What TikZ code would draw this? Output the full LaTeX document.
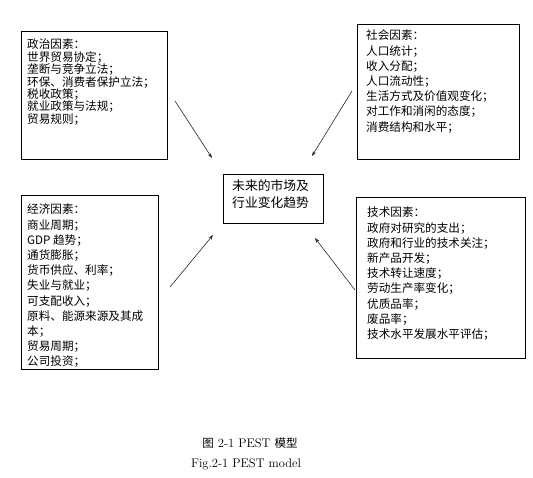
\documentclass[tikz,border=0pt]{standalone}
\usepackage{fontspec}
\newfontfamily\cjk{Noto Sans CJK SC}
\usetikzlibrary{arrows.meta}
\newcommand{\topstrut}{\rule{0pt}{11pt}}
\begin{document}
\begin{tikzpicture}[x=1pt,y=-1pt,
  box/.style={draw=black,line width=0.8pt,inner sep=0pt,anchor=north west},
  txt/.style={inner sep=0pt,anchor=north west,align=left,font=\cjk\fontsize{11.6}{15.2}\selectfont},
  arr/.style={draw=black!85,line width=0.6pt,-{Stealth[length=5pt,width=3.5pt]}}]
\useasboundingbox (0,0) rectangle (533,477);
% boxes
\node[box,minimum width=146pt,minimum height=128pt] (pol) at (21,31) {};
\node[box,minimum width=162pt,minimum height=135pt] (soc) at (357,24) {};
\node[box,minimum width=137pt,minimum height=174pt] (eco) at (21,195) {};
\node[box,minimum width=169pt,minimum height=161pt] (tec) at (356,197) {};
\node[box,minimum width=100pt,minimum height=49pt] (ctr) at (223,174) {};
% texts (baseline of first line = y + 11)
\node[txt,font=\cjk\fontsize{11.6}{12.4}\selectfont] (polt) at (27,37.6) {\topstrut 政治因素：\\世界贸易协定；\\垄断与竞争立法；\\环保、消费者保护立法；\\税收政策；\\就业政策与法规；\\贸易规则；};
\node[txt] (soct) at (366,28.6) {\topstrut 社会因素：\\人口统计；\\收入分配；\\人口流动性；\\生活方式及价值观变化；\\对工作和消闲的态度；\\消费结构和水平；};
\node[txt] (ecot) at (27,202.6) {\topstrut 经济因素：\\商业周期；\\GDP 趋势；\\通货膨胀；\\货币供应、利率；\\失业与就业；\\可支配收入；\\原料、能源来源及其成\\本；\\贸易周期；\\公司投资；};
\node[txt] (tect) at (367,205.6) {\topstrut 技术因素：\\政府对研究的支出；\\政府和行业的技术关注；\\新产品开发；\\技术转让速度；\\劳动生产率变化；\\优质品率；\\废品率；\\技术水平发展水平评估；};
\node[txt,font=\cjk\fontsize{12.8}{17}\selectfont] (ctrt) at (232,178.8) {\topstrut 未来的市场及\\行业变化趋势};
% arrows
\coordinate (a1s) at (175,101); \coordinate (a1e) at (212,158);
\coordinate (a2s) at (352,91);  \coordinate (a2e) at (312,156);
\coordinate (a3s) at (170,287); \coordinate (a3e) at (213,235);
\coordinate (a4s) at (355,290); \coordinate (a4e) at (315,238);
\draw[arr] (a1s) -- (a1e);
\draw[arr] (a2s) -- (a2e);
\draw[arr] (a3s) -- (a3e);
\draw[arr] (a4s) -- (a4e);
% captions
\node[inner sep=0pt,font=\fontsize{12.5}{14}\selectfont] (cap1) at (250,443) {{\cjk\fontsize{11.5}{14}\selectfont 图} 2-1 PEST {\cjk\fontsize{11.5}{14}\selectfont 模型}};
\node[inner sep=0pt,font=\fontsize{12.5}{14}\selectfont] (cap2) at (246,464) {Fig.2-1 PEST model};
\end{tikzpicture}
\end{document}
